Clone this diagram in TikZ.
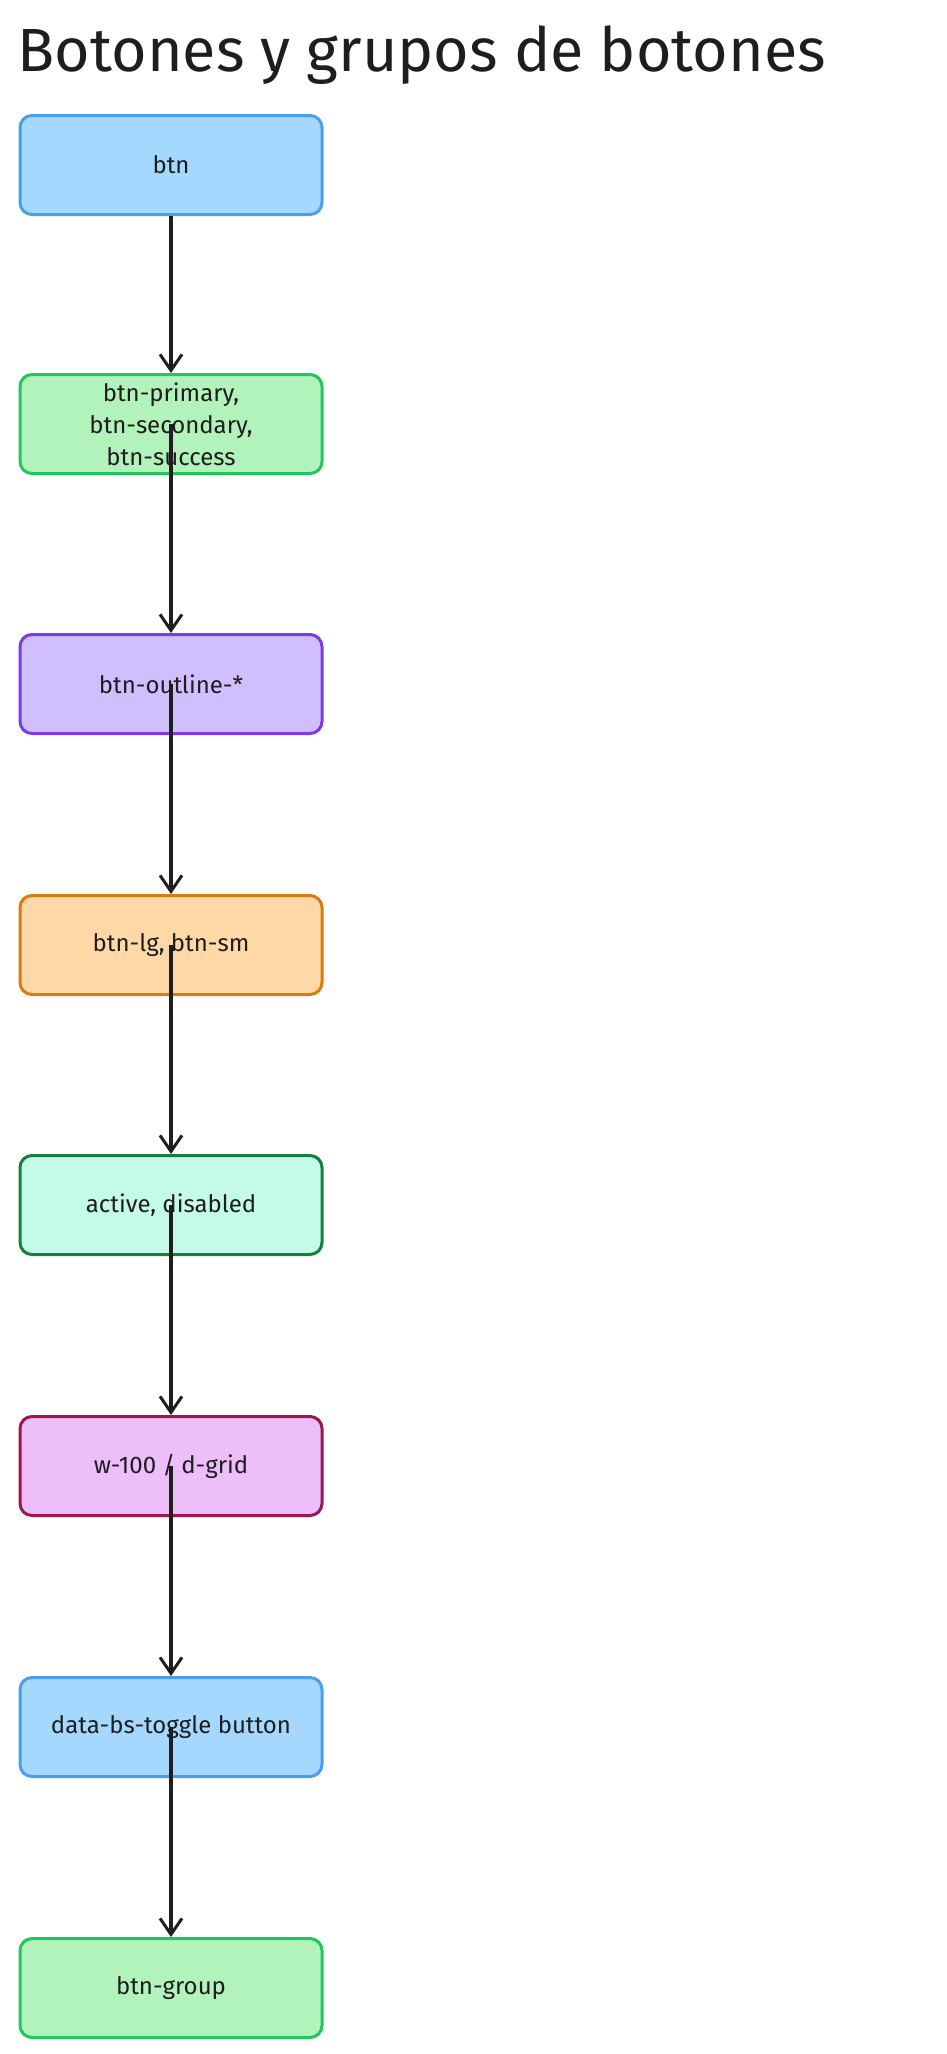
\documentclass[tikz,border=0pt]{standalone}
\usepackage{fontspec}
\setmainfont{Fira Sans}
\usetikzlibrary{arrows.meta}
\definecolor{b1}{HTML}{A5D8FF}\definecolor{b2}{HTML}{4A9EED}
\definecolor{g1}{HTML}{B2F2BB}\definecolor{g2}{HTML}{22C55E}
\definecolor{p1}{HTML}{D0BFFF}\definecolor{p2}{HTML}{7C3AED}
\definecolor{o1}{HTML}{FFD8A8}\definecolor{o2}{HTML}{DD7A0E}
\definecolor{t1}{HTML}{C3FAE8}\definecolor{t2}{HTML}{15803D}
\definecolor{m1}{HTML}{EEBEFA}\definecolor{m2}{HTML}{9D174D}
\definecolor{ink}{HTML}{1E1E1E}
\begin{document}
\begin{tikzpicture}[x=1pt,y=-1pt,
 box/.style={draw=#1, line width=3pt, rounded corners=12pt, minimum width=302pt, minimum height=99pt, align=center, text=ink, font=\fontsize{24}{32}\selectfont},
 arr/.style={draw=ink, line width=3.5pt, -{Straight Barb[length=16pt,width=22pt,line width=3pt]}}]
\useasboundingbox (0,0) rectangle (947,2054);
\node[anchor=west, text=ink, font=\fontsize{61}{66}\selectfont] (title) at (14,55) {Botones y grupos de botones};
\node[box=b2, fill=b1] (n1) at (171,165) {btn};
\node[box=g2, fill=g1] (n2) at (171,424) {btn-primary,\\btn-secondary,\\btn-success};
\node[box=p2, fill=p1] (n3) at (171,684) {btn-outline-*};
\node[box=o2, fill=o1] (n4) at (171,945) {btn-lg, btn-sm};
\node[box=t2, fill=t1] (n5) at (171,1205) {active, disabled};
\node[box=m2, fill=m1] (n6) at (171,1466) {w-100 / d-grid};
\node[box=b2, fill=b1] (n7) at (171,1727) {data-bs-toggle button};
\node[box=g2, fill=g1] (n8) at (171,1988) {btn-group};
\draw[arr] (n1.south) -- (n2.north);
\foreach \a/\b in {n2/n3,n3/n4,n4/n5,n5/n6,n6/n7,n7/n8}
  \draw[arr] (\a.center) -- (\b.north);
\end{tikzpicture}
\end{document}
